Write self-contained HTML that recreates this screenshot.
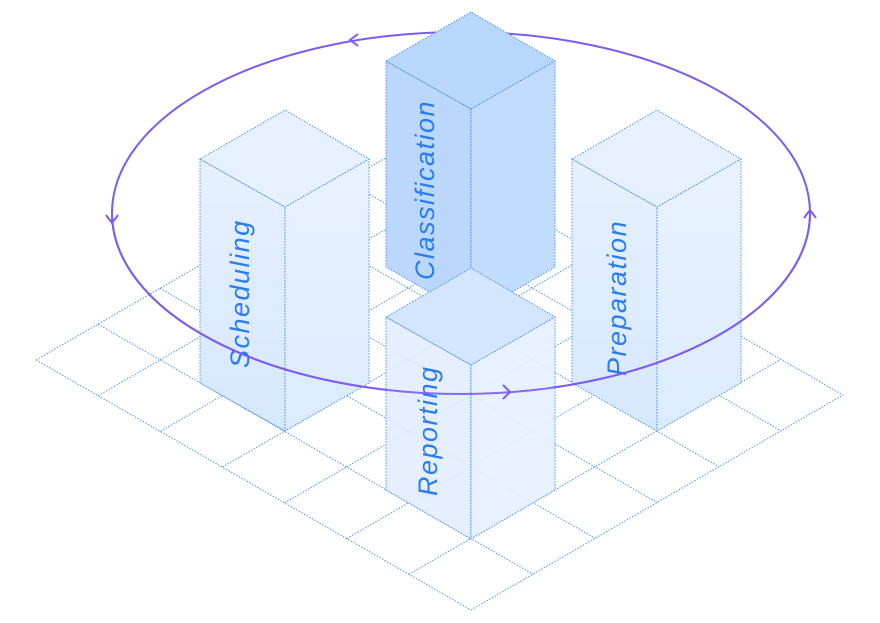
<!DOCTYPE html>
<html><head><meta charset="utf-8"><style>
html,body{margin:0;padding:0;background:#fff;}
svg{display:block}
text{font-family:"Liberation Sans",sans-serif;font-style:italic;font-size:27px;fill:#2a7cf2;letter-spacing:1.5px}
</style></head><body>
<svg width="880" height="623" viewBox="0 0 880 623" xmlns="http://www.w3.org/2000/svg">
<defs>
<linearGradient id="lf" x1="0" y1="0" x2="0" y2="1"><stop offset="0" stop-color="#e6f0ff"/><stop offset="1" stop-color="#d6e8ff"/></linearGradient>
<linearGradient id="rf" x1="0" y1="0" x2="0" y2="1"><stop offset="0" stop-color="#e9f2ff"/><stop offset="1" stop-color="#dcebff"/></linearGradient>
</defs>
<g stroke="#4a94f7" stroke-width="1" stroke-dasharray="1.5 1.5" fill="none">
<line x1="36" y1="360" x2="408" y2="145"/>
<line x1="98.1" y1="395.7" x2="470.1" y2="180.7"/>
<line x1="160.3" y1="431.4" x2="532.3" y2="216.4"/>
<line x1="222.4" y1="467.1" x2="594.4" y2="252.1"/>
<line x1="284.6" y1="502.8" x2="656.6" y2="287.8"/>
<line x1="346.7" y1="538.6" x2="718.7" y2="323.6"/>
<line x1="408.8" y1="574.3" x2="780.8" y2="359.3"/>
<line x1="471" y1="610" x2="843" y2="395"/>
<line x1="36" y1="360" x2="471" y2="610"/>
<line x1="98" y1="324.2" x2="533" y2="574.2"/>
<line x1="160" y1="288.3" x2="595" y2="538.3"/>
<line x1="222" y1="252.5" x2="657" y2="502.5"/>
<line x1="284" y1="216.7" x2="719" y2="466.7"/>
<line x1="346" y1="180.9" x2="781" y2="430.9"/>
<line x1="408" y1="145" x2="843" y2="395"/>
</g>
<g stroke="#4a94f7" stroke-width="1" stroke-dasharray="1.5 1.5">
<polygon points="200,159 285,207 285,431 200,383" fill="url(#lf)"/>
<polygon points="285,207 369,159 369,383 285,431" fill="url(#rf)"/>
<polygon points="200,159 285,110 369,159 285,207" fill="#e6f0ff"/>
<polygon points="572,159 657,207 657,431 572,383" fill="url(#lf)"/>
<polygon points="657,207 741,159 741,383 657,431" fill="url(#rf)"/>
<polygon points="572,159 657,110 741,159 657,207" fill="#e6f0ff"/>
</g>
<text transform="translate(249,368) rotate(-90)">Scheduling</text>
<text transform="translate(626,376) rotate(-90)">Preparation</text>
<ellipse cx="461" cy="213" rx="349" ry="181" fill="none" stroke="#7b5cf5" stroke-width="2"/>
<g fill="none" stroke="#7b5cf5" stroke-width="2">
<polyline points="358,34 350,40 358,46"/>
<polyline points="106,215 112,223 118,215"/>
<polyline points="804,218 810,210 816,218"/>
</g>
<g stroke="#4a94f7" stroke-width="1" stroke-dasharray="1.5 1.5">
<polygon points="386,61 471,109 471,316 386,267" fill="#bcd7fd"/>
<polygon points="471,109 555,61 555,267 471,316" fill="#c2dcff"/>
<polygon points="386,61 471,12 555,61 471,109" fill="#b9d6fd"/>
</g>
<text transform="translate(434,280) rotate(-90)">Classification</text>
<g stroke="#4a94f7" stroke-width="1" stroke-dasharray="1.5 1.5">
<polygon points="386,317 471,365 471,539 386,490" fill="#e3eeff" fill-opacity="0.92"/>
<polygon points="471,365 555,317 555,490 471,539" fill="#e6f0ff" fill-opacity="0.92"/>
<polygon points="386,317 471,268 555,317 471,365" fill="#d3e5ff"/>
</g>
<text transform="translate(437,496) rotate(-90)">Reporting</text>
<path d="M112,213 A349,181 0 0 0 810,213" fill="none" stroke="#7b5cf5" stroke-width="2" stroke-opacity="0.9"/>
<polyline points="503,385 510,392 503,399" fill="none" stroke="#7b5cf5" stroke-width="2"/>
</svg>
</body></html>
